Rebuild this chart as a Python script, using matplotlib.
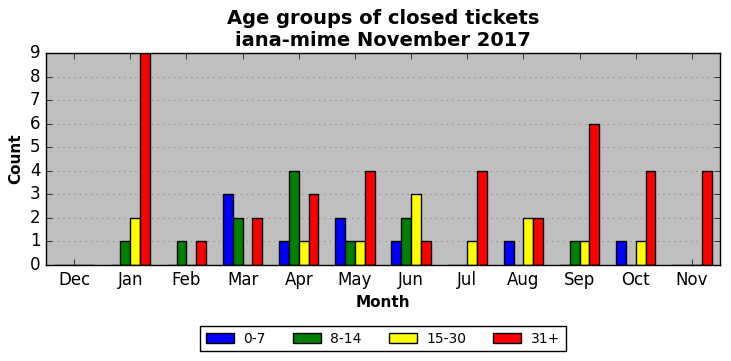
import matplotlib
matplotlib.use("Agg")
import matplotlib.pyplot as plt
import numpy as np

months = ["Dec", "Jan", "Feb", "Mar", "Apr", "May", "Jun", "Jul", "Aug", "Sep", "Oct", "Nov"]
age_0_7 = [0, 0, 0, 3, 1, 2, 1, 0, 1, 0, 1, 0]
age_8_14 = [0, 1, 1, 2, 4, 1, 2, 0, 0, 1, 0, 0]
age_15_30 = [0, 2, 0, 0, 1, 1, 3, 1, 2, 1, 1, 0]
age_31_plus = [0, 9, 1, 2, 3, 4, 1, 4, 2, 6, 4, 4]

series = [
    ("0-7", age_0_7, "blue"),
    ("8-14", age_8_14, "green"),
    ("15-30", age_15_30, "yellow"),
    ("31+", age_31_plus, "red"),
]

plt.style.use("classic")
fig = plt.figure(figsize=(7.31, 3.61), dpi=100)
ax = fig.add_axes([0.063, 0.266, 0.922, 0.587])
ax.set_facecolor("#bfbfbf")

x = np.arange(len(months))
width = 0.175
for k, (label, vals, color) in enumerate(series):
    ax.bar(x - 2 * width + k * width, vals, width, align="edge",
           color=color, edgecolor="black", linewidth=1, label=label)

ax.set_xlim(-0.5, len(months) - 0.5)
ax.set_ylim(0, 9)
ax.set_xticks(x)
ax.set_xticklabels(months)
ax.set_yticks(range(0, 10))
ax.yaxis.grid(True, linestyle=":", color="#808080")
ax.xaxis.grid(False)
ax.set_axisbelow(True)
ax.tick_params(labelsize=12)

ax.set_xlabel("Month", fontweight="bold", fontsize=11)
ax.set_ylabel("Count", fontweight="bold", fontsize=11)
ax.set_title("Age groups of closed tickets\niana-mime November 2017",
             fontweight="bold", fontsize=14)

ax.legend(loc="upper center", bbox_to_anchor=(0.5, -0.255), ncol=4,
          fontsize=10, fancybox=False, handlelength=2.0, handletextpad=0.7,
          columnspacing=1.95)

fig.savefig("out.png", dpi=100)
